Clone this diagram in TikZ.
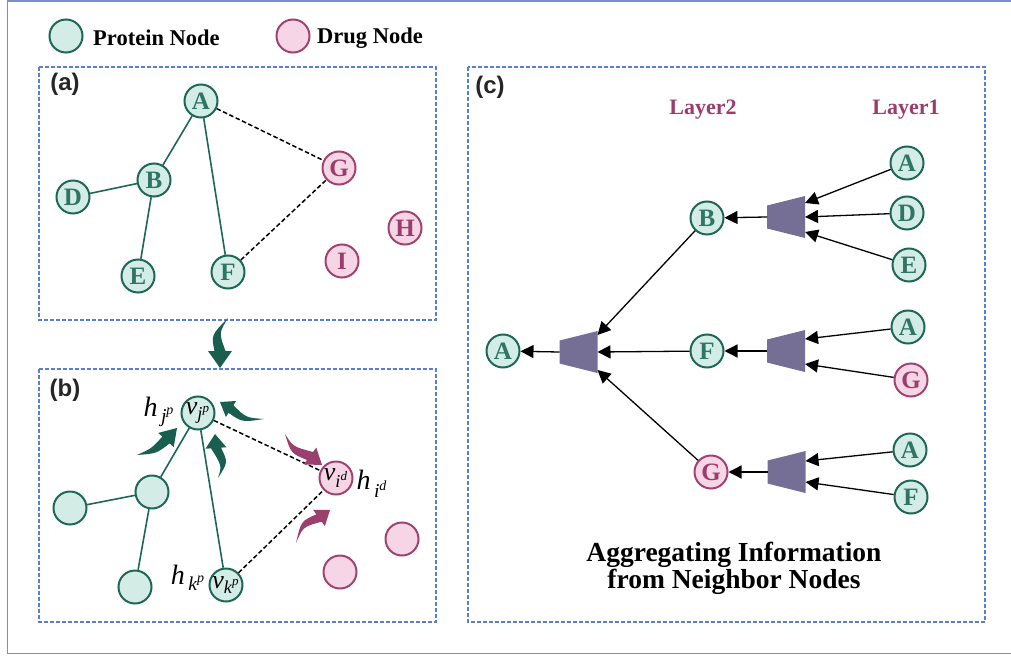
\documentclass[tikz,border=0pt]{standalone}
\usepackage{amsmath}
\usepackage{fontspec}
\setmainfont{Liberation Serif}
\newfontfamily\arialf{Liberation Sans}
\usetikzlibrary{arrows.meta,calc}
\definecolor{tealB}{HTML}{1E6656}
\definecolor{tealF}{HTML}{D4ECE6}
\definecolor{tealT}{HTML}{2F7566}
\definecolor{magB}{HTML}{A0426F}
\definecolor{magF}{HTML}{F6D6E6}
\definecolor{magT}{HTML}{9B3D6C}
\definecolor{boxB}{HTML}{5B7FD0}
\definecolor{frameB}{HTML}{7A8ECC}
\definecolor{aggC}{HTML}{756F95}
\definecolor{tealA}{HTML}{1A5E50}
\definecolor{magA}{HTML}{9B3F6E}
\newcommand\ti[1]{\textit{#1}}
% colour, tail, control, head base, tip, body half width, head half width, control offset
\newcommand\mySwoosh[8]{\fill[#1] (#2) .. controls ($(#3)!#8!90:(#4)$) .. ($(#4)!#6!90:(#5)$) -- ($(#4)!#7!90:(#5)$) -- (#5) -- ($(#4)!#7!-90:(#5)$) -- ($(#4)!#6!-90:(#5)$) .. controls ($(#3)!#8!-90:(#4)$) .. (#2) -- cycle;}
\tikzset{
 pnode/.style={circle, draw=tealB, fill=tealF, line width=2pt, minimum size=33pt, inner sep=0pt, text=tealT, font=\fontsize{25}{25}\selectfont\bfseries},
 dnode/.style={pnode, draw=magB, fill=magF, text=magT},
 vnode/.style={font=\fontsize{26}{26}\selectfont, text=black},
 pedge/.style={draw=tealB, line width=1.6pt},
 dedge/.style={draw=black, line width=1.5pt, dash pattern=on 4.5pt off 2.5pt},
 panel/.style={draw=boxB, line width=1.2pt, dash pattern=on 4pt off 2pt},
 plabel/.style={font=\arialf\fontsize{24}{24}\selectfont\bfseries, text=black!85},
 arr/.style={draw=black, line width=1.3pt, -{Triangle[length=13pt,width=13pt]}},
 agg/.style={minimum width=38pt, minimum height=42pt, inner sep=0pt, outer sep=0pt},
 layer/.style={font=\fontsize{22}{22}\selectfont\bfseries, text=magT},
 hlab/.style={font=\fontsize{28}{28}\selectfont, inner sep=0pt},
 legtxt/.style={anchor=west, inner sep=0pt, font=\fontsize{22.5}{22.5}\selectfont\bfseries},
}
\begin{document}
\begin{tikzpicture}[x=1pt,y=-1pt]
\useasboundingbox (0,0) rectangle (1011,658);
% outer frame
\draw[frameB, line width=1.5pt] (1020,1) -- (7.5,1) -- (7.5,653.5) -- (1020,653.5);
% legend
\node[pnode] (lp) at (66,36) {};
\node[legtxt] (lpt) at (93,38) {Protein Node};
\node[dnode] (ld) at (293,36) {};
\node[legtxt] (ldt) at (317,38) {Drug Node};
% panels
\draw[panel] (39,67) rectangle (436,320);
\draw[panel] (39,369) rectangle (436,622);
\draw[panel] (468,67) rectangle (985,622);
\node[plabel] (la) at (65,84) {(a)};
\node[plabel] (lb) at (65,390) {(b)};
\node[plabel] (lc) at (490,87) {(c)};
% panel (a)
\node[pnode] (aA) at (201,101) {A};
\node[pnode] (aB) at (154,180) {B};
\node[pnode] (aD) at (73,197) {D};
\node[pnode] (aE) at (138,276) {E};
\node[pnode] (aF) at (228,272) {F};
\node[dnode] (aG) at (339,168) {G};
\node[dnode] (aH) at (405,228) {H};
\node[dnode] (aI) at (342,261) {I};
\draw[pedge] (aA) -- (aB);
\draw[pedge] (aA) -- (aF);
\draw[pedge] (aB) -- (aD);
\draw[pedge] (aB) -- (aE);
\draw[dedge] (aA) -- (aG);
\draw[dedge] (aF) -- (aG);
% transition arrow
\mySwoosh{tealA}{228,318}{215,334}{220,351}{220,368}{5.5pt}{12pt}{4pt}
% panel (b)
\node[pnode, vnode] (bJ) at (198,413) {$\ti{v}_{\ti{j}^{\ti{p}}}$};
\node[pnode] (bB) at (152,492) {};
\node[pnode] (bD) at (70,508) {};
\node[pnode] (bE) at (135,587) {};
\node[pnode, vnode] (bK) at (226,585) {$\ti{v}_{\ti{k}^{\ti{p}}}$};
\node[dnode, vnode] (bI) at (336,478) {$\ti{v}_{\ti{i}^{\ti{d}}}$};
\node[dnode] (bH) at (402,539) {};
\node[dnode] (bII) at (340,572) {};
\draw[pedge] (bB) -- (bJ);
\draw[pedge] (bB) -- (bD);
\draw[pedge] (bB) -- (bE);
\draw[pedge] (bJ) -- (bK);
\draw[dedge] (bJ) -- (bI);
\draw[dedge] (bK) -- (bI);
\node[hlab] (hj) at (159,412) {$\ti{h}_{\,\ti{j}^{\ti{p}}}$};
\node[hlab] (hk) at (188,578) {$\ti{h}_{\,\ti{k}^{\ti{p}}}$};
\node[hlab] (hi) at (372,484) {$\ti{h}_{\,\ti{i}^{\ti{d}}}$};
\mySwoosh{tealA}{137,455}{154,451}{166,440}{177,428}{5pt}{10.5pt}{3.5pt}
\mySwoosh{tealA}{218,478}{225,464}{216,448}{215,434}{5pt}{10.5pt}{3.5pt}
\mySwoosh{tealA}{264,419}{244,420}{231,409}{220,402}{4.5pt}{9.5pt}{3pt}
\mySwoosh{magA}{285,434}{292,450}{310,456}{322,465}{5pt}{10.5pt}{3.5pt}
\mySwoosh{magA}{296,543}{302,524}{319,518}{330,510}{4.5pt}{10pt}{3pt}
% panel (c)
\node[layer] (l2) at (703,110) {Layer2};
\node[layer] (l1) at (906,110) {Layer1};
\node[pnode] (cA) at (503,351) {A};
\node[agg] (t0) at (578.5,352) {};
\node[pnode] (cB) at (707,218) {B};
\node[pnode] (cF) at (707,351) {F};
\node[dnode] (cG) at (711,472) {G};
\node[agg] (t1) at (786,217) {};
\node[agg] (t2) at (786,351) {};
\node[agg] (t3) at (786.5,472) {};
\node[pnode] (cA1) at (907,163) {A};
\node[pnode] (cD1) at (907,213) {D};
\node[pnode] (cE1) at (909,265) {E};
\node[pnode] (cA2) at (908,327) {A};
\node[dnode] (cG2) at (911,380) {G};
\node[pnode] (cA3) at (910,450) {A};
\node[pnode] (cF3) at (911,497) {F};
\foreach \t in {t0,t1,t2,t3}{
  \fill[aggC] ([yshift=-9.5pt]\t.north west) -- (\t.north east) -- (\t.south east) -- ([yshift=9.5pt]\t.south west) -- cycle;
}
\draw[arr] (t0.west) -- (cA);
\draw[arr] (cB) -- ([yshift=17pt]t0.east);
\draw[arr] (cF) -- (t0.east);
\draw[arr] (cG) -- ([yshift=-18pt]t0.east);
\draw[arr] (t1.west) -- (cB);
\draw[arr] (t2.west) -- (cF);
\draw[arr] (t3.west) -- (cG);
\draw[arr] (cA1) -- ([yshift=14pt]t1.east);
\draw[arr] (cD1) -- (t1.east);
\draw[arr] (cE1) -- ([yshift=-15pt]t1.east);
\draw[arr] (cA2) -- ([yshift=12pt]t2.east);
\draw[arr] (cG2) -- ([yshift=-13pt]t2.east);
\draw[arr] (cA3) -- ([yshift=11pt]t3.east);
\draw[arr] (cF3) -- ([yshift=-10pt]t3.east);
\node[align=center, font=\fontsize{27.5}{27}\selectfont\bfseries] (agtxt) at (734,568) {Aggregating Information\\from Neighbor Nodes};
\end{tikzpicture}
\end{document}
